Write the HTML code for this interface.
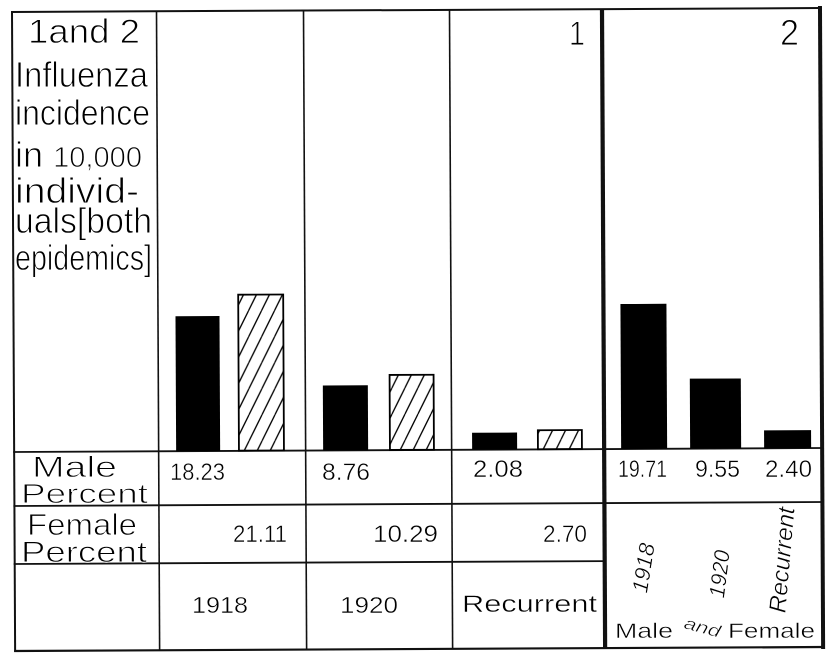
<!DOCTYPE html>
<html>
<head>
<meta charset="utf-8">
<style>
  html, body { margin: 0; padding: 0; background: #ffffff; }
  body { width: 828px; height: 662px; overflow: hidden; }
  svg { display: block; }
  text { font-family: "Liberation Sans", "DejaVu Sans", sans-serif; fill: #000; }
  .big text, text.big { stroke: #fff; stroke-width: 0.9; }
  .sm text, text.sm { stroke: #fff; stroke-width: 0.45; }
</style>
</head>
<body>
<svg width="828" height="662" viewBox="0 0 828 662" xmlns="http://www.w3.org/2000/svg">
  <defs>
    <pattern id="hatch" patternUnits="userSpaceOnUse" width="13" height="26" x="0" y="0">
      <line x1="0" y1="26" x2="13" y2="0" stroke="#000" stroke-width="1.3"/>
      <line x1="-13" y1="26" x2="0" y2="0" stroke="#000" stroke-width="1.3"/>
      <line x1="13" y1="26" x2="26" y2="0" stroke="#000" stroke-width="1.3"/>
    </pattern>
  </defs>
  <rect x="0" y="0" width="828" height="662" fill="#fff"/>

  <g transform="rotate(-0.28 11 12)">
    <!-- outer borders -->
    <line x1="11" y1="12" x2="821" y2="12" stroke="#111" stroke-width="2"/>
    <line x1="11" y1="651" x2="821" y2="651" stroke="#111" stroke-width="2.2"/>
    <line x1="12" y1="11" x2="12" y2="652" stroke="#111" stroke-width="2"/>
    <line x1="820" y1="10" x2="820" y2="653" stroke="#111" stroke-width="4"/>
    <!-- column lines -->
    <line x1="156.5" y1="12" x2="156.5" y2="651" stroke="#111" stroke-width="1.6"/>
    <line x1="303.5" y1="12" x2="303.5" y2="651" stroke="#111" stroke-width="1.6"/>
    <line x1="449.5" y1="12" x2="449.5" y2="651" stroke="#111" stroke-width="1.6"/>
    <line x1="602" y1="12" x2="602" y2="651" stroke="#111" stroke-width="4.2"/>
    <!-- row lines -->
    <line x1="11" y1="452" x2="821" y2="452" stroke="#111" stroke-width="1.8"/>
    <line x1="11" y1="506" x2="821" y2="506" stroke="#111" stroke-width="1.8"/>
    <line x1="11" y1="564" x2="602" y2="564" stroke="#111" stroke-width="1.8"/>

    <!-- bars -->
    <rect x="174" y="317" width="44" height="135" fill="#000"/>
    <rect x="236.8" y="295.8" width="45" height="156" fill="url(#hatch)" stroke="#000" stroke-width="1.8"/>
    <rect x="321" y="387" width="45" height="65" fill="#000"/>
    <rect x="387.8" y="376.8" width="44" height="75" fill="url(#hatch)" stroke="#000" stroke-width="1.8"/>
    <rect x="470" y="435" width="45" height="17" fill="#000"/>
    <rect x="535.8" y="432.8" width="44" height="19" fill="url(#hatch)" stroke="#000" stroke-width="1.8"/>
    <rect x="619" y="307" width="46" height="145" fill="#000"/>
    <rect x="688" y="382" width="51" height="70" fill="#000"/>
    <rect x="762" y="434" width="47" height="18" fill="#000"/>
  </g>

  <g class="big">
  <!-- left title -->
  <text x="28" y="43" font-size="34" textLength="112" lengthAdjust="spacingAndGlyphs">1and 2</text>
  <text x="15" y="87" font-size="36" textLength="133" lengthAdjust="spacingAndGlyphs">Influenza</text>
  <text x="15" y="125" font-size="36" textLength="135" lengthAdjust="spacingAndGlyphs">incidence</text>
  <text x="15" y="167" font-size="36" textLength="127" lengthAdjust="spacingAndGlyphs">in <tspan font-size="29">10,000</tspan></text>
  <text x="15" y="203" font-size="36" textLength="124" lengthAdjust="spacingAndGlyphs">individ-</text>
  <text x="15" y="233" font-size="36" textLength="137" lengthAdjust="spacingAndGlyphs">uals[both</text>
  <text x="15" y="270" font-size="36" textLength="137" lengthAdjust="spacingAndGlyphs">epidemics]</text>

  <!-- panel numbers -->
  <text x="569" y="45" font-size="34" textLength="16" lengthAdjust="spacingAndGlyphs">1</text>
  <text x="780" y="45" font-size="36" textLength="19" lengthAdjust="spacingAndGlyphs">2</text>

  <!-- row labels -->
  <text x="32" y="477" font-size="30" textLength="85" lengthAdjust="spacingAndGlyphs">Male</text>
  <text x="21" y="503" font-size="28" textLength="127" lengthAdjust="spacingAndGlyphs">Percent</text>
  <text x="27" y="535" font-size="31" textLength="110" lengthAdjust="spacingAndGlyphs">Female</text>
  <text x="21" y="562" font-size="30" textLength="126" lengthAdjust="spacingAndGlyphs">Percent</text>
  </g>

  <g class="sm">
  <!-- male values -->
  <text x="170" y="480" font-size="24" textLength="55" lengthAdjust="spacingAndGlyphs">18.23</text>
  <text x="322" y="480" font-size="24" textLength="48" lengthAdjust="spacingAndGlyphs">8.76</text>
  <text x="473" y="477" font-size="24" textLength="50" lengthAdjust="spacingAndGlyphs">2.08</text>
  <text x="618" y="477" font-size="24" textLength="49" lengthAdjust="spacingAndGlyphs">19.71</text>
  <text x="695" y="477" font-size="24" textLength="45" lengthAdjust="spacingAndGlyphs">9.55</text>
  <text x="765" y="477" font-size="24" textLength="47" lengthAdjust="spacingAndGlyphs">2.40</text>

  <!-- female values -->
  <text x="233" y="542" font-size="24" textLength="54" lengthAdjust="spacingAndGlyphs">21.11</text>
  <text x="373" y="542" font-size="24" textLength="65" lengthAdjust="spacingAndGlyphs">10.29</text>
  <text x="543" y="542" font-size="24" textLength="44" lengthAdjust="spacingAndGlyphs">2.70</text>

  <!-- category labels -->
  <text x="192" y="613" font-size="23" textLength="56" lengthAdjust="spacingAndGlyphs">1918</text>
  <text x="340" y="613" font-size="23" textLength="58" lengthAdjust="spacingAndGlyphs">1920</text>
  <text x="462" y="612" font-size="24" textLength="135" lengthAdjust="spacingAndGlyphs">Recurrent</text>

  <!-- right panel rotated labels -->
  <g transform="translate(644 568) rotate(-81)">
    <text x="0" y="7" font-size="22" font-style="italic" text-anchor="middle" textLength="50" lengthAdjust="spacingAndGlyphs">1918</text>
  </g>
  <g transform="translate(720 574) rotate(-83)">
    <text x="0" y="7" font-size="22" font-style="italic" text-anchor="middle" textLength="48" lengthAdjust="spacingAndGlyphs">1920</text>
  </g>
  <g transform="translate(782 560) rotate(-85)">
    <text x="0" y="8" font-size="24" font-style="italic" text-anchor="middle" textLength="106" lengthAdjust="spacingAndGlyphs">Recurrent</text>
  </g>

  <text x="615" y="638" font-size="21" textLength="58" lengthAdjust="spacingAndGlyphs">Male</text>
  <g transform="translate(683 628) rotate(15)">
    <text x="0" y="0" font-size="17" font-style="italic" textLength="37" lengthAdjust="spacingAndGlyphs">and</text>
  </g>
  <text x="728" y="638" font-size="21" textLength="87" lengthAdjust="spacingAndGlyphs">Female</text>
  </g>
</svg>
</body>
</html>
